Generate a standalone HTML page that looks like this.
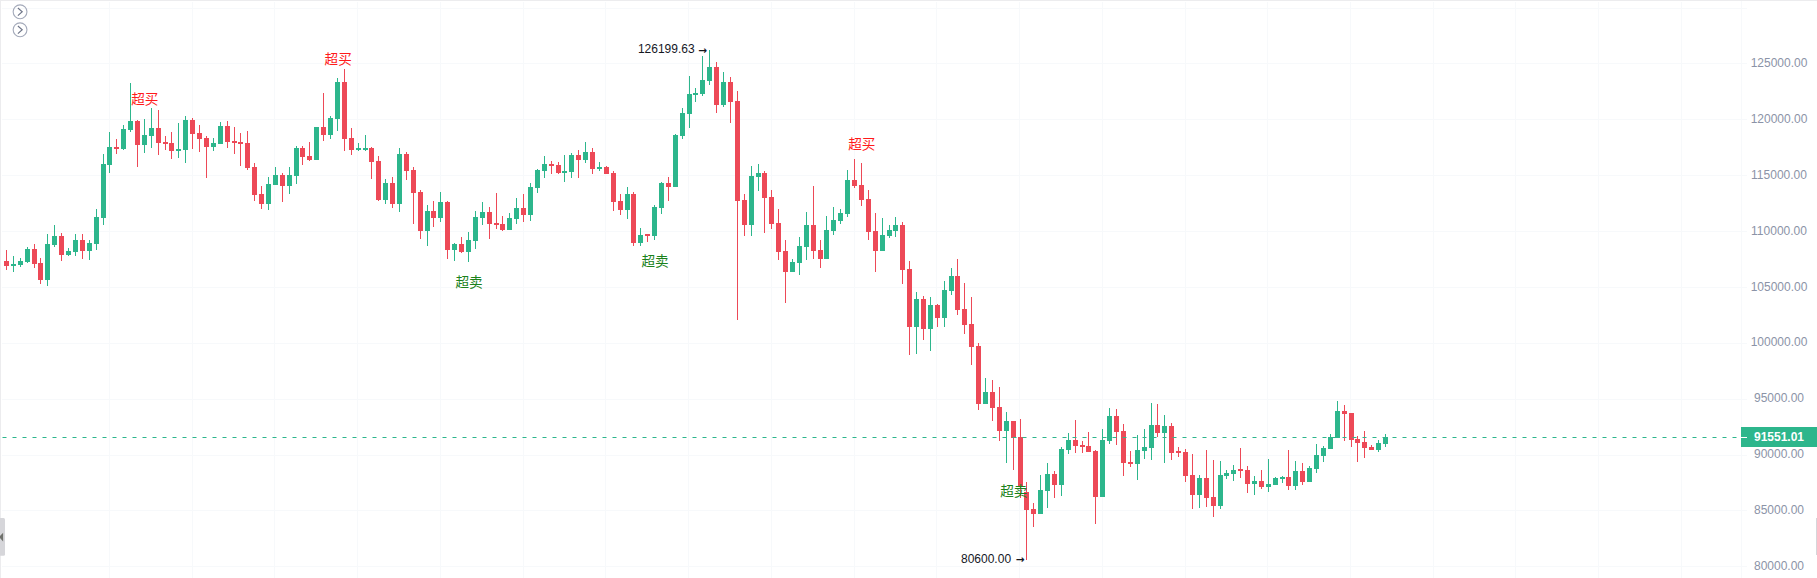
<!DOCTYPE html>
<html lang="zh"><head><meta charset="utf-8"><title>K线图</title>
<style>
html,body{margin:0;padding:0;background:#fff;}
body{width:1817px;height:578px;overflow:hidden;font-family:"Liberation Sans","Noto Sans CJK SC",sans-serif;}
svg{display:block}
.ax{font-size:12px;fill:#8b93a7;text-anchor:middle}
.mk{font-size:12px;fill:#14171f}
.ar{font-family:'DejaVu Sans',sans-serif;font-weight:bold;font-size:10.5px}
.ob{font-size:13.5px;fill:#ff1a1a;text-anchor:middle}
.os{font-size:13.5px;fill:#1b821b;text-anchor:middle}
</style></head><body>
<svg width="1817" height="578" viewBox="0 0 1817 578">
<rect width="1817" height="578" fill="#fff"/>

<rect x="2" y="8" width="1745" height="1" fill="#f7f9fb"/>
<rect x="2" y="63" width="1745" height="1" fill="#f7f9fb"/>
<rect x="2" y="119" width="1745" height="1" fill="#f7f9fb"/>
<rect x="2" y="175" width="1745" height="1" fill="#f7f9fb"/>
<rect x="2" y="231" width="1745" height="1" fill="#f7f9fb"/>
<rect x="2" y="287" width="1745" height="1" fill="#f7f9fb"/>
<rect x="2" y="343" width="1745" height="1" fill="#f7f9fb"/>
<rect x="2" y="399" width="1745" height="1" fill="#f7f9fb"/>
<rect x="2" y="455" width="1745" height="1" fill="#f7f9fb"/>
<rect x="2" y="510" width="1745" height="1" fill="#f7f9fb"/>
<rect x="2" y="566" width="1745" height="1" fill="#f7f9fb"/>
<rect x="109" y="2" width="1" height="576" fill="#f7f9fb"/>
<rect x="192" y="2" width="1" height="576" fill="#f7f9fb"/>
<rect x="274" y="2" width="1" height="576" fill="#f7f9fb"/>
<rect x="357" y="2" width="1" height="576" fill="#f7f9fb"/>
<rect x="440" y="2" width="1" height="576" fill="#f7f9fb"/>
<rect x="523" y="2" width="1" height="576" fill="#f7f9fb"/>
<rect x="605" y="2" width="1" height="576" fill="#f7f9fb"/>
<rect x="688" y="2" width="1" height="576" fill="#f7f9fb"/>
<rect x="771" y="2" width="1" height="576" fill="#f7f9fb"/>
<rect x="854" y="2" width="1" height="576" fill="#f7f9fb"/>
<rect x="936" y="2" width="1" height="576" fill="#f7f9fb"/>
<rect x="1019" y="2" width="1" height="576" fill="#f7f9fb"/>
<rect x="1102" y="2" width="1" height="576" fill="#f7f9fb"/>
<rect x="1185" y="2" width="1" height="576" fill="#f7f9fb"/>
<rect x="1267" y="2" width="1" height="576" fill="#f7f9fb"/>
<rect x="1350" y="2" width="1" height="576" fill="#f7f9fb"/>
<rect x="1433" y="2" width="1" height="576" fill="#f7f9fb"/>
<rect x="1515" y="2" width="1" height="576" fill="#f7f9fb"/>
<rect x="1598" y="2" width="1" height="576" fill="#f7f9fb"/>
<rect x="1681" y="2" width="1" height="576" fill="#f7f9fb"/>
<rect x="1741" y="1" width="1" height="577" fill="#f7f9fb"/>
<rect x="0" y="0" width="1817" height="1" fill="#ececee"/>
<rect x="0" y="0" width="1" height="578" fill="#ececee"/>
<g fill="#ed4957"><rect x="6" y="250" width="1" height="20"/><rect x="4" y="261" width="5" height="5"/></g>
<g fill="#2db68c"><rect x="13" y="256" width="1" height="16"/><rect x="11" y="264" width="5" height="2"/></g>
<g fill="#2db68c"><rect x="20" y="258" width="1" height="9"/><rect x="18" y="261" width="5" height="4"/></g>
<g fill="#2db68c"><rect x="27" y="247" width="1" height="16"/><rect x="25" y="249" width="5" height="13"/></g>
<g fill="#ed4957"><rect x="34" y="244" width="1" height="24"/><rect x="32" y="249" width="5" height="15"/></g>
<g fill="#ed4957"><rect x="40" y="258" width="1" height="26"/><rect x="38" y="263" width="5" height="17"/></g>
<g fill="#2db68c"><rect x="47" y="234" width="1" height="52"/><rect x="45" y="244" width="5" height="36"/></g>
<g fill="#2db68c"><rect x="54" y="225" width="1" height="22"/><rect x="52" y="236" width="5" height="9"/></g>
<g fill="#ed4957"><rect x="61" y="233" width="1" height="28"/><rect x="59" y="236" width="5" height="19"/></g>
<g fill="#2db68c"><rect x="68" y="248" width="1" height="8"/><rect x="66" y="251" width="5" height="4"/></g>
<g fill="#2db68c"><rect x="75" y="234" width="1" height="22"/><rect x="73" y="240" width="5" height="12"/></g>
<g fill="#ed4957"><rect x="82" y="234" width="1" height="25"/><rect x="80" y="240" width="5" height="11"/></g>
<g fill="#2db68c"><rect x="89" y="240" width="1" height="20"/><rect x="87" y="243" width="5" height="8"/></g>
<g fill="#2db68c"><rect x="96" y="209" width="1" height="41"/><rect x="94" y="217" width="5" height="27"/></g>
<g fill="#2db68c"><rect x="103" y="154" width="1" height="71"/><rect x="101" y="164" width="5" height="54"/></g>
<g fill="#2db68c"><rect x="109" y="132" width="1" height="41"/><rect x="107" y="147" width="5" height="18"/></g>
<g fill="#ed4957"><rect x="116" y="139" width="1" height="15"/><rect x="114" y="147" width="5" height="2"/></g>
<g fill="#2db68c"><rect x="123" y="125" width="1" height="25"/><rect x="121" y="129" width="5" height="20"/></g>
<g fill="#2db68c"><rect x="130" y="83" width="1" height="49"/><rect x="128" y="121" width="5" height="9"/></g>
<g fill="#ed4957"><rect x="137" y="120" width="1" height="47"/><rect x="135" y="121" width="5" height="24"/></g>
<g fill="#2db68c"><rect x="144" y="119" width="1" height="34"/><rect x="142" y="135" width="5" height="10"/></g>
<g fill="#2db68c"><rect x="151" y="108" width="1" height="40"/><rect x="149" y="128" width="5" height="8"/></g>
<g fill="#ed4957"><rect x="158" y="110" width="1" height="45"/><rect x="156" y="128" width="5" height="15"/></g>
<g fill="#ed4957"><rect x="165" y="136" width="1" height="14"/><rect x="163" y="142" width="5" height="2"/></g>
<g fill="#ed4957"><rect x="171" y="132" width="1" height="27"/><rect x="169" y="143" width="5" height="8"/></g>
<g fill="#2db68c"><rect x="178" y="123" width="1" height="35"/><rect x="176" y="149" width="5" height="2"/></g>
<g fill="#2db68c"><rect x="185" y="116" width="1" height="47"/><rect x="183" y="120" width="5" height="30"/></g>
<g fill="#ed4957"><rect x="192" y="118" width="1" height="31"/><rect x="190" y="120" width="5" height="14"/></g>
<g fill="#ed4957"><rect x="199" y="125" width="1" height="27"/><rect x="197" y="133" width="5" height="6"/></g>
<g fill="#ed4957"><rect x="206" y="136" width="1" height="42"/><rect x="204" y="138" width="5" height="9"/></g>
<g fill="#2db68c"><rect x="213" y="138" width="1" height="13"/><rect x="211" y="143" width="5" height="4"/></g>
<g fill="#2db68c"><rect x="220" y="122" width="1" height="22"/><rect x="218" y="126" width="5" height="18"/></g>
<g fill="#ed4957"><rect x="227" y="121" width="1" height="27"/><rect x="225" y="126" width="5" height="16"/></g>
<g fill="#ed4957"><rect x="234" y="127" width="1" height="27"/><rect x="232" y="141" width="5" height="2"/></g>
<g fill="#ed4957"><rect x="240" y="133" width="1" height="33"/><rect x="238" y="142" width="5" height="2"/></g>
<g fill="#ed4957"><rect x="247" y="131" width="1" height="39"/><rect x="245" y="143" width="5" height="25"/></g>
<g fill="#ed4957"><rect x="254" y="163" width="1" height="38"/><rect x="252" y="167" width="5" height="28"/></g>
<g fill="#ed4957"><rect x="261" y="186" width="1" height="23"/><rect x="259" y="194" width="5" height="10"/></g>
<g fill="#2db68c"><rect x="268" y="177" width="1" height="33"/><rect x="266" y="184" width="5" height="20"/></g>
<g fill="#2db68c"><rect x="275" y="167" width="1" height="18"/><rect x="273" y="175" width="5" height="10"/></g>
<g fill="#ed4957"><rect x="282" y="173" width="1" height="29"/><rect x="280" y="175" width="5" height="11"/></g>
<g fill="#2db68c"><rect x="289" y="167" width="1" height="27"/><rect x="287" y="175" width="5" height="11"/></g>
<g fill="#2db68c"><rect x="296" y="146" width="1" height="38"/><rect x="294" y="148" width="5" height="28"/></g>
<g fill="#ed4957"><rect x="302" y="146" width="1" height="19"/><rect x="300" y="148" width="5" height="9"/></g>
<g fill="#ed4957"><rect x="309" y="142" width="1" height="19"/><rect x="307" y="156" width="5" height="4"/></g>
<g fill="#2db68c"><rect x="316" y="127" width="1" height="33"/><rect x="314" y="127" width="5" height="33"/></g>
<g fill="#ed4957"><rect x="323" y="93" width="1" height="48"/><rect x="321" y="127" width="5" height="8"/></g>
<g fill="#2db68c"><rect x="330" y="116" width="1" height="23"/><rect x="328" y="118" width="5" height="17"/></g>
<g fill="#2db68c"><rect x="337" y="78" width="1" height="53"/><rect x="335" y="82" width="5" height="37"/></g>
<g fill="#ed4957"><rect x="344" y="69" width="1" height="82"/><rect x="342" y="82" width="5" height="57"/></g>
<g fill="#ed4957"><rect x="351" y="128" width="1" height="27"/><rect x="349" y="138" width="5" height="12"/></g>
<g fill="#2db68c"><rect x="358" y="143" width="1" height="8"/><rect x="356" y="148" width="5" height="2"/></g>
<g fill="#2db68c"><rect x="365" y="135" width="1" height="16"/><rect x="363" y="148" width="5" height="2"/></g>
<g fill="#ed4957"><rect x="371" y="147" width="1" height="32"/><rect x="369" y="148" width="5" height="14"/></g>
<g fill="#ed4957"><rect x="378" y="156" width="1" height="45"/><rect x="376" y="161" width="5" height="39"/></g>
<g fill="#2db68c"><rect x="385" y="179" width="1" height="25"/><rect x="383" y="183" width="5" height="17"/></g>
<g fill="#ed4957"><rect x="392" y="177" width="1" height="31"/><rect x="390" y="183" width="5" height="21"/></g>
<g fill="#2db68c"><rect x="399" y="148" width="1" height="64"/><rect x="397" y="154" width="5" height="50"/></g>
<g fill="#ed4957"><rect x="406" y="152" width="1" height="28"/><rect x="404" y="154" width="5" height="17"/></g>
<g fill="#ed4957"><rect x="413" y="167" width="1" height="57"/><rect x="411" y="170" width="5" height="23"/></g>
<g fill="#ed4957"><rect x="420" y="190" width="1" height="49"/><rect x="418" y="192" width="5" height="39"/></g>
<g fill="#2db68c"><rect x="427" y="205" width="1" height="41"/><rect x="425" y="211" width="5" height="20"/></g>
<g fill="#ed4957"><rect x="433" y="201" width="1" height="26"/><rect x="431" y="211" width="5" height="7"/></g>
<g fill="#2db68c"><rect x="440" y="192" width="1" height="30"/><rect x="438" y="202" width="5" height="16"/></g>
<g fill="#ed4957"><rect x="447" y="201" width="1" height="58"/><rect x="445" y="202" width="5" height="48"/></g>
<g fill="#2db68c"><rect x="454" y="243" width="1" height="18"/><rect x="452" y="244" width="5" height="6"/></g>
<g fill="#ed4957"><rect x="461" y="237" width="1" height="16"/><rect x="459" y="244" width="5" height="8"/></g>
<g fill="#2db68c"><rect x="468" y="232" width="1" height="30"/><rect x="466" y="240" width="5" height="12"/></g>
<g fill="#2db68c"><rect x="475" y="211" width="1" height="38"/><rect x="473" y="217" width="5" height="24"/></g>
<g fill="#2db68c"><rect x="482" y="202" width="1" height="23"/><rect x="480" y="212" width="5" height="6"/></g>
<g fill="#ed4957"><rect x="489" y="207" width="1" height="32"/><rect x="487" y="212" width="5" height="12"/></g>
<g fill="#ed4957"><rect x="496" y="193" width="1" height="36"/><rect x="494" y="223" width="5" height="2"/></g>
<g fill="#ed4957"><rect x="502" y="216" width="1" height="15"/><rect x="500" y="224" width="5" height="6"/></g>
<g fill="#2db68c"><rect x="509" y="213" width="1" height="17"/><rect x="507" y="218" width="5" height="12"/></g>
<g fill="#2db68c"><rect x="516" y="198" width="1" height="26"/><rect x="514" y="208" width="5" height="11"/></g>
<g fill="#ed4957"><rect x="523" y="194" width="1" height="28"/><rect x="521" y="208" width="5" height="7"/></g>
<g fill="#2db68c"><rect x="530" y="183" width="1" height="38"/><rect x="528" y="187" width="5" height="28"/></g>
<g fill="#2db68c"><rect x="537" y="169" width="1" height="24"/><rect x="535" y="170" width="5" height="18"/></g>
<g fill="#2db68c"><rect x="544" y="156" width="1" height="22"/><rect x="542" y="164" width="5" height="7"/></g>
<g fill="#ed4957"><rect x="551" y="161" width="1" height="13"/><rect x="549" y="164" width="5" height="2"/></g>
<g fill="#ed4957"><rect x="558" y="162" width="1" height="12"/><rect x="556" y="165" width="5" height="8"/></g>
<g fill="#2db68c"><rect x="564" y="155" width="1" height="27"/><rect x="562" y="171" width="5" height="2"/></g>
<g fill="#2db68c"><rect x="571" y="153" width="1" height="25"/><rect x="569" y="155" width="5" height="17"/></g>
<g fill="#ed4957"><rect x="578" y="150" width="1" height="28"/><rect x="576" y="155" width="5" height="5"/></g>
<g fill="#2db68c"><rect x="585" y="142" width="1" height="21"/><rect x="583" y="152" width="5" height="8"/></g>
<g fill="#ed4957"><rect x="592" y="148" width="1" height="26"/><rect x="590" y="152" width="5" height="17"/></g>
<g fill="#2db68c"><rect x="599" y="162" width="1" height="9"/><rect x="597" y="167" width="5" height="2"/></g>
<g fill="#ed4957"><rect x="606" y="166" width="1" height="8"/><rect x="604" y="167" width="5" height="7"/></g>
<g fill="#ed4957"><rect x="613" y="171" width="1" height="40"/><rect x="611" y="173" width="5" height="29"/></g>
<g fill="#ed4957"><rect x="620" y="194" width="1" height="21"/><rect x="618" y="201" width="5" height="9"/></g>
<g fill="#2db68c"><rect x="627" y="187" width="1" height="32"/><rect x="625" y="194" width="5" height="16"/></g>
<g fill="#ed4957"><rect x="633" y="192" width="1" height="54"/><rect x="631" y="194" width="5" height="49"/></g>
<g fill="#2db68c"><rect x="640" y="228" width="1" height="18"/><rect x="638" y="235" width="5" height="8"/></g>
<g fill="#ed4957"><rect x="647" y="234" width="1" height="8"/><rect x="645" y="234" width="5" height="2"/></g>
<g fill="#2db68c"><rect x="654" y="205" width="1" height="35"/><rect x="652" y="207" width="5" height="29"/></g>
<g fill="#2db68c"><rect x="661" y="182" width="1" height="32"/><rect x="659" y="183" width="5" height="25"/></g>
<g fill="#ed4957"><rect x="668" y="177" width="1" height="24"/><rect x="666" y="183" width="5" height="4"/></g>
<g fill="#2db68c"><rect x="675" y="134" width="1" height="53"/><rect x="673" y="135" width="5" height="52"/></g>
<g fill="#2db68c"><rect x="682" y="108" width="1" height="31"/><rect x="680" y="113" width="5" height="23"/></g>
<g fill="#2db68c"><rect x="689" y="76" width="1" height="52"/><rect x="687" y="94" width="5" height="20"/></g>
<g fill="#2db68c"><rect x="695" y="88" width="1" height="14"/><rect x="693" y="93" width="5" height="2"/></g>
<g fill="#2db68c"><rect x="702" y="56" width="1" height="40"/><rect x="700" y="80" width="5" height="14"/></g>
<g fill="#2db68c"><rect x="709" y="50" width="1" height="35"/><rect x="707" y="67" width="5" height="14"/></g>
<g fill="#ed4957"><rect x="716" y="62" width="1" height="51"/><rect x="714" y="67" width="5" height="38"/></g>
<g fill="#2db68c"><rect x="723" y="72" width="1" height="35"/><rect x="721" y="82" width="5" height="23"/></g>
<g fill="#ed4957"><rect x="730" y="77" width="1" height="46"/><rect x="728" y="82" width="5" height="20"/></g>
<g fill="#ed4957"><rect x="737" y="91" width="1" height="229"/><rect x="735" y="101" width="5" height="100"/></g>
<g fill="#ed4957"><rect x="744" y="194" width="1" height="42"/><rect x="742" y="200" width="5" height="25"/></g>
<g fill="#2db68c"><rect x="751" y="166" width="1" height="70"/><rect x="749" y="176" width="5" height="49"/></g>
<g fill="#2db68c"><rect x="758" y="164" width="1" height="27"/><rect x="756" y="173" width="5" height="4"/></g>
<g fill="#ed4957"><rect x="764" y="171" width="1" height="62"/><rect x="762" y="173" width="5" height="25"/></g>
<g fill="#ed4957"><rect x="771" y="190" width="1" height="39"/><rect x="769" y="197" width="5" height="27"/></g>
<g fill="#ed4957"><rect x="778" y="209" width="1" height="51"/><rect x="776" y="223" width="5" height="29"/></g>
<g fill="#ed4957"><rect x="785" y="240" width="1" height="63"/><rect x="783" y="251" width="5" height="21"/></g>
<g fill="#2db68c"><rect x="792" y="259" width="1" height="13"/><rect x="790" y="262" width="5" height="10"/></g>
<g fill="#2db68c"><rect x="799" y="237" width="1" height="38"/><rect x="797" y="246" width="5" height="17"/></g>
<g fill="#2db68c"><rect x="806" y="212" width="1" height="48"/><rect x="804" y="225" width="5" height="22"/></g>
<g fill="#ed4957"><rect x="813" y="186" width="1" height="73"/><rect x="811" y="225" width="5" height="26"/></g>
<g fill="#ed4957"><rect x="820" y="240" width="1" height="28"/><rect x="818" y="250" width="5" height="9"/></g>
<g fill="#2db68c"><rect x="826" y="216" width="1" height="43"/><rect x="824" y="230" width="5" height="29"/></g>
<g fill="#2db68c"><rect x="833" y="207" width="1" height="28"/><rect x="831" y="220" width="5" height="11"/></g>
<g fill="#2db68c"><rect x="840" y="209" width="1" height="15"/><rect x="838" y="213" width="5" height="8"/></g>
<g fill="#2db68c"><rect x="847" y="170" width="1" height="47"/><rect x="845" y="180" width="5" height="34"/></g>
<g fill="#ed4957"><rect x="854" y="159" width="1" height="29"/><rect x="852" y="180" width="5" height="6"/></g>
<g fill="#ed4957"><rect x="861" y="163" width="1" height="43"/><rect x="859" y="185" width="5" height="15"/></g>
<g fill="#ed4957"><rect x="868" y="190" width="1" height="50"/><rect x="866" y="199" width="5" height="33"/></g>
<g fill="#ed4957"><rect x="875" y="213" width="1" height="59"/><rect x="873" y="231" width="5" height="20"/></g>
<g fill="#2db68c"><rect x="882" y="218" width="1" height="33"/><rect x="880" y="235" width="5" height="16"/></g>
<g fill="#2db68c"><rect x="889" y="225" width="1" height="13"/><rect x="887" y="230" width="5" height="6"/></g>
<g fill="#2db68c"><rect x="895" y="217" width="1" height="20"/><rect x="893" y="225" width="5" height="6"/></g>
<g fill="#ed4957"><rect x="902" y="222" width="1" height="62"/><rect x="900" y="225" width="5" height="45"/></g>
<g fill="#ed4957"><rect x="909" y="261" width="1" height="94"/><rect x="907" y="269" width="5" height="58"/></g>
<g fill="#2db68c"><rect x="916" y="292" width="1" height="62"/><rect x="914" y="299" width="5" height="28"/></g>
<g fill="#ed4957"><rect x="923" y="296" width="1" height="44"/><rect x="921" y="299" width="5" height="30"/></g>
<g fill="#2db68c"><rect x="930" y="297" width="1" height="54"/><rect x="928" y="305" width="5" height="24"/></g>
<g fill="#ed4957"><rect x="937" y="304" width="1" height="23"/><rect x="935" y="305" width="5" height="13"/></g>
<g fill="#2db68c"><rect x="944" y="281" width="1" height="46"/><rect x="942" y="290" width="5" height="28"/></g>
<g fill="#2db68c"><rect x="951" y="268" width="1" height="27"/><rect x="949" y="276" width="5" height="15"/></g>
<g fill="#ed4957"><rect x="957" y="259" width="1" height="56"/><rect x="955" y="276" width="5" height="34"/></g>
<g fill="#ed4957"><rect x="964" y="283" width="1" height="51"/><rect x="962" y="309" width="5" height="16"/></g>
<g fill="#ed4957"><rect x="971" y="297" width="1" height="68"/><rect x="969" y="324" width="5" height="23"/></g>
<g fill="#ed4957"><rect x="978" y="343" width="1" height="67"/><rect x="976" y="346" width="5" height="58"/></g>
<g fill="#2db68c"><rect x="985" y="378" width="1" height="26"/><rect x="983" y="392" width="5" height="12"/></g>
<g fill="#ed4957"><rect x="992" y="380" width="1" height="41"/><rect x="990" y="392" width="5" height="16"/></g>
<g fill="#ed4957"><rect x="999" y="387" width="1" height="54"/><rect x="997" y="407" width="5" height="24"/></g>
<g fill="#2db68c"><rect x="1006" y="412" width="1" height="51"/><rect x="1004" y="421" width="5" height="10"/></g>
<g fill="#ed4957"><rect x="1013" y="421" width="1" height="49"/><rect x="1011" y="421" width="5" height="17"/></g>
<g fill="#ed4957"><rect x="1020" y="419" width="1" height="79"/><rect x="1018" y="437" width="5" height="49"/></g>
<g fill="#ed4957"><rect x="1026" y="482" width="1" height="78"/><rect x="1024" y="492" width="5" height="18"/></g>
<g fill="#ed4957"><rect x="1033" y="503" width="1" height="24"/><rect x="1031" y="509" width="5" height="5"/></g>
<g fill="#2db68c"><rect x="1040" y="475" width="1" height="39"/><rect x="1038" y="490" width="5" height="24"/></g>
<g fill="#2db68c"><rect x="1047" y="463" width="1" height="45"/><rect x="1045" y="474" width="5" height="17"/></g>
<g fill="#ed4957"><rect x="1054" y="471" width="1" height="27"/><rect x="1052" y="474" width="5" height="11"/></g>
<g fill="#2db68c"><rect x="1061" y="447" width="1" height="49"/><rect x="1059" y="449" width="5" height="36"/></g>
<g fill="#2db68c"><rect x="1068" y="433" width="1" height="21"/><rect x="1066" y="440" width="5" height="10"/></g>
<g fill="#ed4957"><rect x="1075" y="420" width="1" height="33"/><rect x="1073" y="440" width="5" height="6"/></g>
<g fill="#ed4957"><rect x="1082" y="441" width="1" height="12"/><rect x="1080" y="445" width="5" height="2"/></g>
<g fill="#ed4957"><rect x="1088" y="432" width="1" height="20"/><rect x="1086" y="446" width="5" height="6"/></g>
<g fill="#ed4957"><rect x="1095" y="450" width="1" height="74"/><rect x="1093" y="451" width="5" height="46"/></g>
<g fill="#2db68c"><rect x="1102" y="429" width="1" height="68"/><rect x="1100" y="440" width="5" height="57"/></g>
<g fill="#2db68c"><rect x="1109" y="408" width="1" height="36"/><rect x="1107" y="416" width="5" height="25"/></g>
<g fill="#ed4957"><rect x="1116" y="409" width="1" height="36"/><rect x="1114" y="416" width="5" height="16"/></g>
<g fill="#ed4957"><rect x="1123" y="424" width="1" height="52"/><rect x="1121" y="431" width="5" height="32"/></g>
<g fill="#ed4957"><rect x="1130" y="451" width="1" height="16"/><rect x="1128" y="462" width="5" height="2"/></g>
<g fill="#2db68c"><rect x="1137" y="435" width="1" height="45"/><rect x="1135" y="450" width="5" height="14"/></g>
<g fill="#2db68c"><rect x="1144" y="429" width="1" height="30"/><rect x="1142" y="447" width="5" height="4"/></g>
<g fill="#2db68c"><rect x="1151" y="403" width="1" height="57"/><rect x="1149" y="425" width="5" height="23"/></g>
<g fill="#ed4957"><rect x="1157" y="404" width="1" height="33"/><rect x="1155" y="425" width="5" height="8"/></g>
<g fill="#2db68c"><rect x="1164" y="415" width="1" height="48"/><rect x="1162" y="426" width="5" height="7"/></g>
<g fill="#ed4957"><rect x="1171" y="423" width="1" height="37"/><rect x="1169" y="426" width="5" height="27"/></g>
<g fill="#ed4957"><rect x="1178" y="447" width="1" height="10"/><rect x="1176" y="451" width="5" height="2"/></g>
<g fill="#ed4957"><rect x="1185" y="449" width="1" height="33"/><rect x="1183" y="452" width="5" height="24"/></g>
<g fill="#ed4957"><rect x="1192" y="454" width="1" height="55"/><rect x="1190" y="475" width="5" height="20"/></g>
<g fill="#2db68c"><rect x="1199" y="475" width="1" height="33"/><rect x="1197" y="478" width="5" height="17"/></g>
<g fill="#ed4957"><rect x="1206" y="450" width="1" height="57"/><rect x="1204" y="478" width="5" height="20"/></g>
<g fill="#ed4957"><rect x="1213" y="460" width="1" height="57"/><rect x="1211" y="497" width="5" height="9"/></g>
<g fill="#2db68c"><rect x="1220" y="461" width="1" height="48"/><rect x="1218" y="475" width="5" height="31"/></g>
<g fill="#2db68c"><rect x="1226" y="470" width="1" height="9"/><rect x="1224" y="473" width="5" height="3"/></g>
<g fill="#2db68c"><rect x="1233" y="465" width="1" height="16"/><rect x="1231" y="470" width="5" height="4"/></g>
<g fill="#ed4957"><rect x="1240" y="448" width="1" height="30"/><rect x="1238" y="469" width="5" height="2"/></g>
<g fill="#ed4957"><rect x="1247" y="466" width="1" height="27"/><rect x="1245" y="470" width="5" height="14"/></g>
<g fill="#2db68c"><rect x="1254" y="476" width="1" height="19"/><rect x="1252" y="481" width="5" height="3"/></g>
<g fill="#ed4957"><rect x="1261" y="470" width="1" height="19"/><rect x="1259" y="481" width="5" height="6"/></g>
<g fill="#2db68c"><rect x="1268" y="459" width="1" height="33"/><rect x="1266" y="484" width="5" height="3"/></g>
<g fill="#2db68c"><rect x="1275" y="477" width="1" height="8"/><rect x="1273" y="478" width="5" height="7"/></g>
<g fill="#2db68c"><rect x="1282" y="476" width="1" height="7"/><rect x="1280" y="477" width="5" height="2"/></g>
<g fill="#ed4957"><rect x="1288" y="450" width="1" height="40"/><rect x="1286" y="477" width="5" height="9"/></g>
<g fill="#2db68c"><rect x="1295" y="461" width="1" height="29"/><rect x="1293" y="471" width="5" height="15"/></g>
<g fill="#ed4957"><rect x="1302" y="463" width="1" height="22"/><rect x="1300" y="471" width="5" height="11"/></g>
<g fill="#2db68c"><rect x="1309" y="466" width="1" height="16"/><rect x="1307" y="468" width="5" height="14"/></g>
<g fill="#2db68c"><rect x="1316" y="444" width="1" height="29"/><rect x="1314" y="455" width="5" height="14"/></g>
<g fill="#2db68c"><rect x="1323" y="446" width="1" height="16"/><rect x="1321" y="448" width="5" height="8"/></g>
<g fill="#2db68c"><rect x="1330" y="434" width="1" height="15"/><rect x="1328" y="437" width="5" height="12"/></g>
<g fill="#2db68c"><rect x="1337" y="401" width="1" height="37"/><rect x="1335" y="411" width="5" height="27"/></g>
<g fill="#ed4957"><rect x="1344" y="405" width="1" height="36"/><rect x="1342" y="411" width="5" height="3"/></g>
<g fill="#ed4957"><rect x="1351" y="413" width="1" height="34"/><rect x="1349" y="413" width="5" height="27"/></g>
<g fill="#ed4957"><rect x="1357" y="436" width="1" height="26"/><rect x="1355" y="439" width="5" height="4"/></g>
<g fill="#ed4957"><rect x="1364" y="431" width="1" height="27"/><rect x="1362" y="442" width="5" height="6"/></g>
<g fill="#ed4957"><rect x="1371" y="445" width="1" height="5"/><rect x="1369" y="447" width="5" height="3"/></g>
<g fill="#2db68c"><rect x="1378" y="440" width="1" height="12"/><rect x="1376" y="443" width="5" height="7"/></g>
<g fill="#2db68c"><rect x="1385" y="434" width="1" height="13"/><rect x="1383" y="437" width="5" height="7"/></g>
<line x1="2.5" y1="437.5" x2="1741" y2="437.5" stroke="#2db68c" stroke-width="1" stroke-dasharray="4 6"/>
<text class="ax" x="1779" y="66.9">125000.00</text>
<text class="ax" x="1779" y="122.8">120000.00</text>
<text class="ax" x="1779" y="178.7">115000.00</text>
<text class="ax" x="1779" y="234.6">110000.00</text>
<text class="ax" x="1779" y="290.5">105000.00</text>
<text class="ax" x="1779" y="346.4">100000.00</text>
<text class="ax" x="1779" y="402.3">95000.00</text>
<text class="ax" x="1779" y="458.2">90000.00</text>
<text class="ax" x="1779" y="514.1">85000.00</text>
<text class="ax" x="1779" y="570">80000.00</text>
<rect x="1741" y="427" width="76" height="20" fill="#2db68c"/><rect x="1741" y="437" width="6" height="1" fill="#fff"/>
<text x="1779" y="440.9" font-size="12" font-weight="bold" fill="#fff" text-anchor="middle">91551.01</text>
<text class="mk" x="637.9" y="53.3">126199.63 <tspan class="ar" x="698.6" y="53.6">→</tspan></text>
<text class="mk" x="961" y="562.6">80600.00 <tspan class="ar" x="1016.1" y="563.4">→</tspan></text>
<text class="ob" x="144.8" y="104" textLength="27.2" lengthAdjust="spacingAndGlyphs">超买</text>
<text class="ob" x="338.2" y="64" textLength="27.2" lengthAdjust="spacingAndGlyphs">超买</text>
<text class="ob" x="861.8" y="148.6" textLength="27.2" lengthAdjust="spacingAndGlyphs">超买</text>
<text class="os" x="469" y="287" textLength="27.2" lengthAdjust="spacingAndGlyphs">超卖</text>
<text class="os" x="655" y="266" textLength="27.2" lengthAdjust="spacingAndGlyphs">超卖</text>
<text class="os" x="1013.8" y="496" textLength="27.2" lengthAdjust="spacingAndGlyphs">超卖</text>
<g fill="none"><circle cx="20.05" cy="11.8" r="6.9" stroke="#a4aaba" stroke-width="1.1"/><path d="M17.9 8 l4.3 3.8 l-4.3 3.8" stroke="#6e7588" stroke-width="1.15"/></g>
<g fill="none"><circle cx="20.05" cy="29.8" r="6.9" stroke="#a4aaba" stroke-width="1.1"/><path d="M17.9 26 l4.3 3.8 l-4.3 3.8" stroke="#6e7588" stroke-width="1.15"/></g>
<path d="M0 518 h3.5 a1.5 1.5 0 0 1 1.5 1.5 v34.7 a1.5 1.5 0 0 1 -1.5 1.5 h-3.5 z" fill="#d6d6da"/><path d="M3.1 532.7 v8.8 l-4 -4.4 z" fill="#6f716c"/>
<rect x="1816" y="518" width="1" height="37" fill="#d6d6da"/>
</svg></body></html>
